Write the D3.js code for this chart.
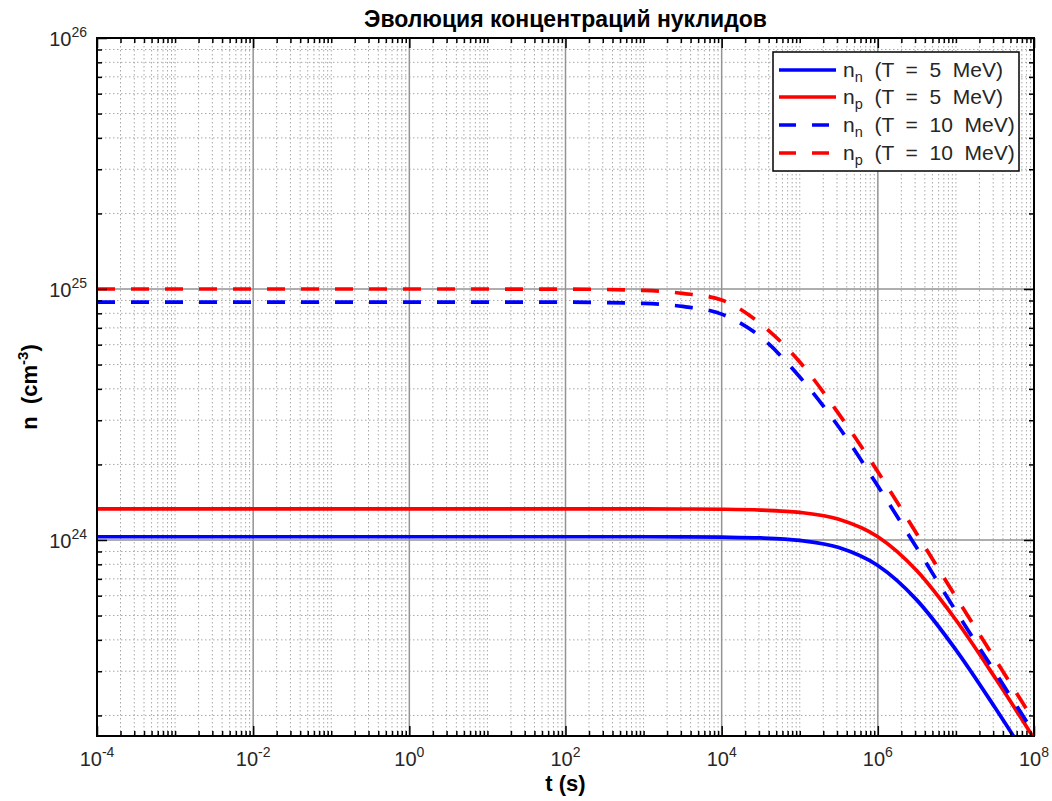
<!DOCTYPE html>
<html>
<head>
<meta charset="utf-8">
<script src="https://cdn.jsdelivr.net/npm/d3@7"></script>
<style>
  html, body { margin: 0; padding: 0; background: #fff; }
  svg { display: block; font-family: "Liberation Sans", Arial, Helvetica, sans-serif; }
  text { white-space: pre; }
</style>
</head>
<body>
<svg id="chart" width="1052" height="801"></svg>
<script>
// ---- data ----
const times = [1e-4, 1, 100, 1000, 3162, 1e4, 31623, 1e5, 316228, 1e6, 3162278, 1e7, 31622777, 1e8];
const nn5  = [1.03e24, 1.03e24, 1.03e24, 1.03e24, 1.029e24, 1.026e24, 1.019e24, 9.96e23, 9.33e23, 7.91e23, 5.76e23, 3.65e23, 2.15e23, 1.23e23];
const np5  = [1.33e24, 1.33e24, 1.33e24, 1.33e24, 1.329e24, 1.326e24, 1.316e24, 1.288e24, 1.209e24, 1.03e24, 7.54e23, 4.80e23, 2.83e23, 1.62e23];
const nn10 = [8.87e24, 8.87e24, 8.86e24, 8.76e24, 8.52e24, 7.94e24, 6.44e24, 4.46e24, 2.82e24, 1.64e24, 9.29e23, 5.21e23, 2.98e23, 1.70e23];
const np10 = [1.0e25, 1.0e25, 9.99e24, 9.87e24, 9.61e24, 9.04e24, 7.26e24, 5.12e24, 3.18e24, 1.87e24, 1.057e24, 5.93e23, 3.36e23, 1.90e23];

const seriesNames = ["n_n|(T  =  5  MeV)", "n_p|(T  =  5  MeV)", "n_n|(T  =  10  MeV)", "n_p|(T  =  10  MeV)"];
const seriesData = [nn5, np5, nn10, np10];
const seriesColors = ["#0000ff", "#ff0000", "#0000ff", "#ff0000"];
const seriesDashed = [false, false, true, true];

const xMajorExp = [-4, -2, 0, 2, 4, 6, 8];
const yMajorExp = [24, 25, 26];
const titleText = "Эволюция концентраций нуклидов";
const xLabel = "t (s)";

// ---- layout ----
const L = 97, R = 1034, T = 38, B = 736;
const svg = d3.select("#chart");
const x = d3.scaleLog().domain([1e-4, 1e8]).range([L, R]);
const y = d3.scaleLog().domain([1.656e23, 1e26]).range([B, T]);

// tick positions
const xMajors = xMajorExp.map(e => Math.pow(10, e));
const xMinors = [];
for (let k = -4; k < 8; k++) for (let m = 2; m <= 10; m++) {
  const v = m * Math.pow(10, k);
  if (m === 10 && (k + 1) % 2 === 0) continue;
  xMinors.push(v);
}
const yMajors = yMajorExp.map(e => Math.pow(10, e));
const yMinors = [];
for (let k = 23; k < 26; k++) for (let m = 2; m <= 9; m++) {
  const v = m * Math.pow(10, k);
  if (v >= y.domain()[0] && v <= y.domain()[1]) yMinors.push(v);
}

// ---- grid ----
const grid = svg.append("g");
grid.selectAll(".vminor").data(xMinors).join("line")
  .attr("x1", d => x(d)).attr("x2", d => x(d)).attr("y1", T).attr("y2", B)
  .attr("stroke", "#a8a8a8").attr("stroke-width", 1).attr("stroke-dasharray", "1.5,2.5");
grid.selectAll(".hminor").data(yMinors).join("line")
  .attr("y1", d => y(d)).attr("y2", d => y(d)).attr("x1", L).attr("x2", R)
  .attr("stroke", "#a8a8a8").attr("stroke-width", 1).attr("stroke-dasharray", "1.5,2.5");
grid.selectAll(".vmajor").data(xMajors.slice(1, -1)).join("line")
  .attr("x1", d => x(d)).attr("x2", d => x(d)).attr("y1", T).attr("y2", B)
  .attr("stroke", "#939393").attr("stroke-width", 1.5);
grid.selectAll(".hmajor").data(yMajors.slice(0, -1)).join("line")
  .attr("y1", d => y(d)).attr("y2", d => y(d)).attr("x1", L).attr("x2", R)
  .attr("stroke", "#939393").attr("stroke-width", 1.5);

// ---- curves ----
svg.append("clipPath").attr("id", "clip").append("rect")
  .attr("x", L).attr("y", T).attr("width", R - L).attr("height", B - T);
const line = d3.line().x(d => x(d[0])).y(d => y(d[1])).curve(d3.curveMonotoneX);
const curves = svg.append("g").attr("clip-path", "url(#clip)");
seriesData.forEach((vals, i) => {
  curves.append("path")
    .datum(times.map((t, j) => [t, vals[j]]))
    .attr("d", line)
    .attr("fill", "none")
    .attr("stroke", seriesColors[i])
    .attr("stroke-width", 3.7)
    .attr("stroke-dasharray", seriesDashed[i] ? "18,16" : null);
});

// ---- axes (inward ticks on all sides) ----
function styleAxis(g) {
  g.select(".domain").remove();
  g.selectAll("line").attr("stroke", "#000").attr("stroke-width", 1.5);
}
svg.append("g").attr("transform", `translate(0,${B})`)
  .call(d3.axisBottom(x).tickValues(xMajors).tickSize(-10).tickFormat("")).call(styleAxis);
svg.append("g").attr("transform", `translate(0,${B})`)
  .call(d3.axisBottom(x).tickValues(xMinors).tickSize(-5).tickFormat("")).call(styleAxis);
svg.append("g").attr("transform", `translate(0,${T})`)
  .call(d3.axisTop(x).tickValues(xMajors).tickSize(-10).tickFormat("")).call(styleAxis);
svg.append("g").attr("transform", `translate(0,${T})`)
  .call(d3.axisTop(x).tickValues(xMinors).tickSize(-5).tickFormat("")).call(styleAxis);
svg.append("g").attr("transform", `translate(${L},0)`)
  .call(d3.axisLeft(y).tickValues(yMajors).tickSize(-10).tickFormat("")).call(styleAxis);
svg.append("g").attr("transform", `translate(${L},0)`)
  .call(d3.axisLeft(y).tickValues(yMinors).tickSize(-5).tickFormat("")).call(styleAxis);
svg.append("g").attr("transform", `translate(${R},0)`)
  .call(d3.axisRight(y).tickValues(yMajors).tickSize(-10).tickFormat("")).call(styleAxis);
svg.append("g").attr("transform", `translate(${R},0)`)
  .call(d3.axisRight(y).tickValues(yMinors).tickSize(-5).tickFormat("")).call(styleAxis);

svg.append("rect").attr("x", L).attr("y", T).attr("width", R - L).attr("height", B - T)
  .attr("fill", "none").attr("stroke", "#000").attr("stroke-width", 2);

// tick labels
const xl = svg.append("g").attr("font-size", 20).attr("fill", "#262626");
xMajorExp.forEach(e => {
  const t = xl.append("text").attr("x", x(Math.pow(10, e))).attr("y", 766).attr("text-anchor", "middle");
  t.append("tspan").text("10");
  t.append("tspan").attr("font-size", 14).attr("dy", -9).text(String(e));
});
yMajorExp.forEach(e => {
  const t = xl.append("text").attr("x", 87).attr("y", y(Math.pow(10, e)) + 8).attr("text-anchor", "end");
  t.append("tspan").text("10");
  t.append("tspan").attr("font-size", 14).attr("dy", -9).text(String(e));
});

// titles
svg.append("text").attr("x", (L + R) / 2).attr("y", 27).attr("text-anchor", "middle")
  .attr("font-size", 23).attr("font-weight", "bold").attr("fill", "#000").text(titleText);
svg.append("text").attr("x", (L + R) / 2).attr("y", 791).attr("text-anchor", "middle")
  .attr("font-size", 22).attr("font-weight", "bold").attr("fill", "#000").text(xLabel);
const yl = svg.append("text").attr("transform", `translate(37,${(T + B) / 2}) rotate(-90)`)
  .attr("text-anchor", "middle").attr("font-size", 22).attr("font-weight", "bold").attr("fill", "#000");
yl.append("tspan").text("n  (cm");
yl.append("tspan").attr("font-size", 15).attr("dy", -9).text("-3");
yl.append("tspan").attr("dy", 9).text(")");

// ---- legend ----
const lg = svg.append("g");
lg.append("rect").attr("x", 773).attr("y", 52).attr("width", 246).attr("height", 119)
  .attr("fill", "#fff").attr("stroke", "#000").attr("stroke-width", 1.5);
const rowY = [70, 97, 125, 153];
seriesNames.forEach((name, i) => {
  lg.append("line").attr("x1", 779).attr("x2", 836).attr("y1", rowY[i]).attr("y2", rowY[i])
    .attr("stroke", seriesColors[i]).attr("stroke-width", 3.7)
    .attr("stroke-dasharray", seriesDashed[i] ? "17,16" : null);
  const parts = name.split("|");
  const sym = parts[0].split("_");
  const t = lg.append("text").attr("x", 843).attr("y", rowY[i] + 7).attr("font-size", 21).attr("fill", "#262626");
  t.append("tspan").text(sym[0]);
  t.append("tspan").attr("font-size", 14.5).attr("dy", 5).text(sym[1]);
  t.append("tspan").attr("dy", -5).text("  " + parts[1]);
});
</script>
</body>
</html>
